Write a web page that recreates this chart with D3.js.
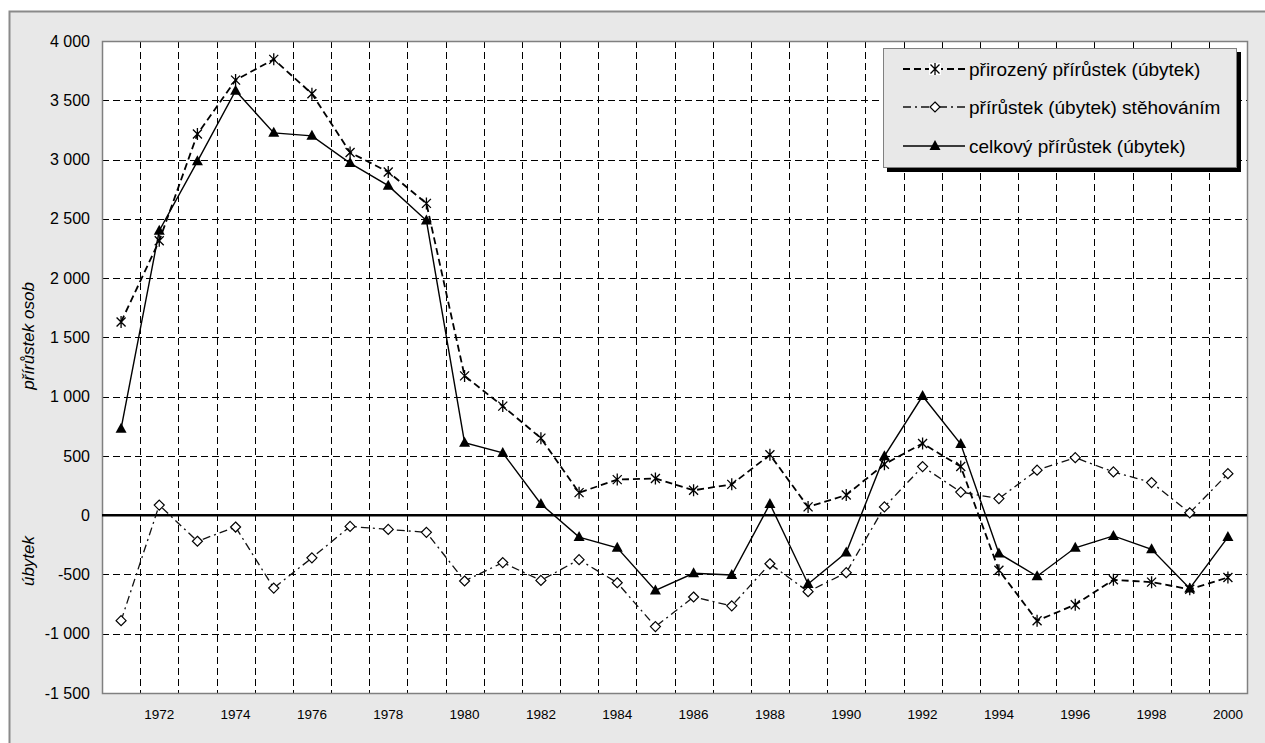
<!DOCTYPE html>
<html>
<head>
<meta charset="utf-8">
<script src="https://cdn.jsdelivr.net/npm/d3@7"></script>
<style>
  body { margin: 0; background: #ffffff; }
  svg { display: block; font-family: "Liberation Sans", Arial, sans-serif; }
</style>
</head>
<body>
<svg id="chart" width="1265" height="743"></svg>
<script>
// roky 1971-2000
const years = d3.range(1971, 2001);
const yearLabels = d3.range(1972, 2001, 2);
const yTicks = [4000, 3500, 3000, 2500, 2000, 1500, 1000, 500, 0, -500, -1000, -1500];

// přirozený přírůstek (úbytek)
const natural = [1630, 2315, 3215, 3670, 3845, 3555, 3060, 2895, 2630, 1175,
                 920, 650, 190, 300, 310, 210, 260, 510, 70, 170,
                 430, 605, 410, -465, -890, -755, -545, -565, -625, -525];
// přírůstek (úbytek) stěhováním
const migration = [-890, 85, -220, -100, -615, -360, -95, -120, -145, -555,
                   -400, -550, -375, -570, -940, -690, -765, -410, -645, -485,
                   70, 410, 195, 140, 380, 485, 365, 275, 20, 350];
// celkový přírůstek (úbytek)
const total = [730, 2400, 2985, 3580, 3225, 3200, 2970, 2780, 2485, 612,
               525, 95, -185, -275, -635, -490, -505, 95, -580, -315,
               498, 1005, 600, -323, -515, -275, -175, -288, -618, -185];

const seriesNames = ["přirozený přírůstek (úbytek)", "přírůstek (úbytek) stěhováním", "celkový přírůstek (úbytek)"];

const svg = d3.select("#chart");
const plot = { left: 102, top: 41, right: 1247, bottom: 693 };

const x = d3.scaleBand().domain(years).range([plot.left, plot.right]).padding(0);
const y = d3.scaleLinear().domain([-1500, 4000]).range([plot.bottom, plot.top]);
const cx = d => x(d) + x.bandwidth() / 2;

const csLocale = d3.formatLocale({ decimal: ",", thousands: " ", grouping: [3], currency: ["", " Kč"], minus: "-" });
const fmt = csLocale.format(",d");

// outer frame
svg.append("rect")
    .attr("x", 9.5).attr("y", 11.5)
    .attr("width", 1265).attr("height", 750)
    .attr("fill", "#e8e8e8").attr("stroke", "#8a8a8a").attr("stroke-width", 2);

// plot background
svg.append("rect")
    .attr("x", plot.left).attr("y", plot.top)
    .attr("width", plot.right - plot.left).attr("height", plot.bottom - plot.top)
    .attr("fill", "#ffffff");

// horizontal gridlines
svg.append("g").selectAll("line")
    .data(yTicks.filter(v => v !== 0 && v !== -1500 && v !== 4000))
    .join("line")
    .attr("x1", plot.left).attr("x2", plot.right)
    .attr("y1", d => Math.round(y(d)) + 0.5).attr("y2", d => Math.round(y(d)) + 0.5)
    .attr("stroke", "#000").attr("stroke-width", 1)
    .attr("stroke-dasharray", "7,4");

// vertical gridlines between categories
svg.append("g").selectAll("line")
    .data(years.slice(1))
    .join("line")
    .attr("x1", d => Math.round(x(d)) + 0.5).attr("x2", d => Math.round(x(d)) + 0.5)
    .attr("y1", plot.top).attr("y2", plot.bottom)
    .attr("stroke", "#000").attr("stroke-width", 1)
    .attr("stroke-dasharray", "7,4");

// plot border
svg.append("rect")
    .attr("x", plot.left + 0.5).attr("y", plot.top + 0.5)
    .attr("width", plot.right - plot.left).attr("height", plot.bottom - plot.top)
    .attr("fill", "none").attr("stroke", "#808080").attr("stroke-width", 1.5);

// zero line
svg.append("line")
    .attr("x1", plot.left).attr("x2", plot.right)
    .attr("y1", y(0)).attr("y2", y(0))
    .attr("stroke", "#000").attr("stroke-width", 2.5);

// y axis
const yAxis = svg.append("g")
    .attr("transform", "translate(" + plot.left + ",0)")
    .call(d3.axisLeft(y).tickValues(yTicks).tickFormat(fmt).tickSize(0).tickPadding(12));
yAxis.select(".domain").remove();
yAxis.selectAll("text")
    .style("font-family", "Liberation Sans, Arial, sans-serif")
    .style("font-size", "16px")
    .attr("fill", "#000");

// x axis
const xAxis = svg.append("g")
    .attr("transform", "translate(0," + plot.bottom + ")")
    .call(d3.axisBottom(x).tickValues(yearLabels).tickSize(0).tickPadding(16));
xAxis.select(".domain").remove();
xAxis.selectAll("text")
    .style("font-family", "Liberation Sans, Arial, sans-serif")
    .style("font-size", "13.5px")
    .attr("fill", "#000");

// y axis titles
svg.append("text")
    .attr("transform", "translate(28,336) rotate(-90)")
    .attr("text-anchor", "middle").attr("dy", "0.35em")
    .style("font-size", "17px").style("font-style", "italic")
    .text("přírůstek osob");
svg.append("text")
    .attr("transform", "translate(28,561) rotate(-90)")
    .attr("text-anchor", "middle").attr("dy", "0.35em")
    .style("font-size", "17px").style("font-style", "italic")
    .text("úbytek");

// series styles
const styles = [
    { values: natural, dash: "7,4", width: 1.8, color: "#000", marker: "star" },
    { values: migration, dash: "8,4,2,4", width: 1.3, color: "#111", marker: "diamond" },
    { values: total, dash: null, width: 1.4, color: "#000", marker: "triangle" }
];

const markerPath = {
    star: "M-4.5,-4.5L4.5,4.5M-4.5,4.5L4.5,-4.5M0,-6L0,6",
    diamond: "M0,-5L5,0L0,5L-5,0Z",
    triangle: "M0,-6L5.5,4L-5.5,4Z"
};

function drawMarker(g, type, px, py) {
    let m = g.append("path")
        .attr("d", markerPath[type])
        .attr("transform", "translate(" + px + "," + py + ")");
    if (type === "star") {
        m.attr("fill", "none").attr("stroke", "#000").attr("stroke-width", 1.3);
    } else if (type === "diamond") {
        m.attr("fill", "#fff").attr("stroke", "#000").attr("stroke-width", 1.2);
    } else {
        m.attr("fill", "#000").attr("stroke", "none");
    }
}

const line = d3.line().x((d, i) => cx(years[i])).y(d => y(d));

styles.forEach(function(s) {
    svg.append("path")
        .datum(s.values)
        .attr("d", line)
        .attr("fill", "none")
        .attr("stroke", s.color)
        .attr("stroke-width", s.width)
        .attr("stroke-dasharray", s.dash);
});

styles.forEach(function(s) {
    let g = svg.append("g");
    s.values.forEach(function(v, i) {
        drawMarker(g, s.marker, cx(years[i]), y(v));
    });
});

// legend
const lg = svg.append("g");
lg.append("rect")
    .attr("x", 887).attr("y", 52).attr("width", 354).attr("height", 120)
    .attr("fill", "#000");
lg.append("rect")
    .attr("x", 883.5).attr("y", 48.5).attr("width", 353).attr("height", 119)
    .attr("fill", "#e8e8e8").attr("stroke", "#808080").attr("stroke-width", 1);

const legendY = [69, 107, 146];
styles.forEach(function(s, i) {
    lg.append("line")
        .attr("x1", 903).attr("x2", 965)
        .attr("y1", legendY[i]).attr("y2", legendY[i])
        .attr("stroke", s.color).attr("stroke-width", s.width)
        .attr("stroke-dasharray", s.dash);
    if (s.marker === "star") {
        lg.append("rect").attr("x", 929).attr("y", legendY[i] - 6)
            .attr("width", 12).attr("height", 12).attr("fill", "#fff");
    }
    drawMarker(lg, s.marker, 935, legendY[i]);
    lg.append("text")
        .attr("x", 969).attr("y", legendY[i]).attr("dy", "0.35em")
        .style("font-size", "19px")
        .text(seriesNames[i]);
});
</script>
</body>
</html>
